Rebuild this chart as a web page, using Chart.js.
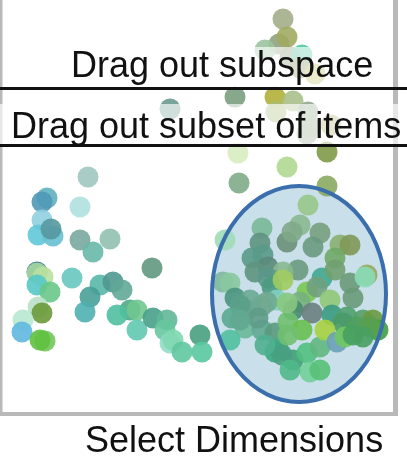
<!DOCTYPE html>
<html>
<head>
<meta charset="utf-8">
<script src="https://cdn.jsdelivr.net/npm/chart.js@4.4.1/dist/chart.umd.min.js"></script>
<style>
  html, body { margin:0; padding:0; background:#fff; overflow:hidden; }
  #wrap { position:relative; width:407px; height:456px; }
  #c { position:absolute; left:0; top:0; }
  .band { position:absolute; background:rgba(255,255,255,0.65); }
  .rule { position:absolute; left:0; width:407px; height:3px; background:#111; }
  .lbl { position:absolute; font-family:"Liberation Sans", Arial, sans-serif; font-size:36px; line-height:36px; color:#111; white-space:nowrap; }
</style>
</head>
<body>
<div id="wrap">
  <canvas id="c" width="407" height="456"></canvas>
  <div class="band" style="left:60px; top:47px; width:330px; height:41px;"></div>
  <div class="band" style="left:0; top:104px; width:407px; height:41px;"></div>
  <div class="rule" style="top:87px;"></div>
  <div class="rule" style="top:144px;"></div>
  <div class="lbl" style="left:71px; top:47px;">Drag out subspace</div>
  <div class="lbl" style="left:11px; top:108px;">Drag out subset of items</div>
  <div class="lbl" style="left:85px; top:422px;">Select Dimensions</div>
</div>
<script>
// ---- data (projection coordinates of items) ----
const xValues = [
  283,279,287,265,290,302,300,315,
  235,275,293,170,276,308,310,307,331,238,327,287,239,327,
  225,308,300,262,320,287,313,292,260,340,350,335,263,252,268,255,298,283,268,223,230,235,272,283,322,307,317,335,350,367,365,
  277,267,247,262,250,240,330,353,300,293,312,332,347,363,373,378,232,245,262,258,240,275,288,230,278,275,293,282,307,310,320,290,265,320,343,357,370,363,
  302,325,337,345,353,287,288,200,202,
  88,47,42,80,42,38,53,51,80,110,93,152,37,37,43,37,50,72,100,113,122,90,85,38,42,23,22,45,40,
  130,117,137,137,153,167,165,170,173,182
];
const yValues = [
  19,44,37,50,57,55,68,74,
  97,97,101,109,112,112,127,134,125,153,152,167,183,186,
  240,205,225,228,233,242,247,232,243,245,245,258,255,258,267,272,270,272,278,282,283,298,287,280,278,292,287,270,283,275,277,
  300,302,310,306,300,305,300,298,302,310,313,315,317,320,320,330,318,328,330,318,320,333,322,340,348,352,360,355,353,372,370,370,345,347,323,327,327,337,
  330,330,342,337,335,303,335,335,352,
  177,198,202,207,220,235,236,229,240,239,252,268,272,273,277,285,292,278,285,282,290,297,312,307,313,320,332,341,340,
  310,315,310,330,318,320,330,343,340,352
];
// ---- colour of each item (style) ----
const pointColors = [
  '#a3ae88','#8fa27e','#a2ab62','#9cc4a0','#8a9a78','#50c8a0','#8f9a61','#bcbc61',
  '#7a9e7e','#b0b038','#a8c088','#6a9a90','#a6bd78','#90a890','#9aae90','#9aae90','#b0b070','#d8ecc0','#7e9a48','#b0d890','#80ac88','#8aaa60',
  '#a0dcb8','#98c888','#88b890','#7ab898','#78a080','#6a9078','#6a9a80','#80a888','#5e9480','#8ab070','#809858','#70a868','#5a9a88','#5a9a88','#5a8a7a','#5e9480','#6a9a80','#88b890','#5a9888','#80b8a0','#88c8a0','#4a9480','#4a9a80','#a0cc60','#40a890','#78c850','#70a080','#70a070','#6a9a78','#98a858','#88dcb8',
  '#80d0c0','#70a890','#68a088','#70a890','#6aa894','#5aa088','#90c878','#689a78','#78b080','#4a8a70','#6a8080','#3a9a80','#50a070','#58a068','#6a9a40','#40a040','#5aa890','#6ab898','#60a890','#5e9c88','#60a890','#5a9a80','#70c070','#50c0a0','#4aa888','#3aa880','#40a078','#48a080','#50c080','#70d098','#58c078','#50b888','#50b090','#60b880','#4a9a68','#50a060','#58a050','#48a060',
  '#68c050','#a8d040','#6aa0b8','#70c860','#48a060','#88c880','#70c070','#48a080','#5ac8a0',
  '#a0c8c0','#60b0c0','#5098b8','#b0e0e0','#90d0e0','#60c8d8','#68c0d0','#5898a0','#78a8a0','#90c0b0','#68b8a8','#609880','#2a7090','#a8d8a0','#b8e0a0','#58c8c8','#68c888','#68c8c0','#58b8a8','#50988f','#60a898','#48a098','#50b0b0','#b8e0c8','#6a9a38','#b8e8d0','#60b8e0','#70c858','#60c040',
  '#50a888','#50c0a0','#70c890','#60c8b0','#48a088','#60b898','#68c8a0','#90dcc8','#80d8b0','#60c8a0'
];
// selection ellipse (data units)
const selCenter = [299, 294];
const selRadii = [87, 108];
// frame of the projection view (data units)
const frame = { left: 0, right: 395.5, bottom: 414 };

function rgba(hex, a) {
  const n = parseInt(hex.slice(1), 16);
  return `rgba(${(n>>16)&255},${(n>>8)&255},${n&255},${a})`;
}

function ellipseGeom(chart) {
  const {x, y} = chart.scales;
  const cx = x.getPixelForValue(selCenter[0]), cy = y.getPixelForValue(selCenter[1]);
  const rx = Math.abs(x.getPixelForValue(selCenter[0] + selRadii[0]) - cx);
  const ry = Math.abs(y.getPixelForValue(selCenter[1] + selRadii[1]) - cy);
  return {cx, cy, rx, ry};
}

const decor = {
  id: 'decor',
  beforeDatasetsDraw(chart) {
    const {ctx, scales:{x, y}} = chart;
    ctx.save();
    ctx.fillStyle = '#b9b9b9';
    const l = x.getPixelForValue(frame.left), r = x.getPixelForValue(frame.right);
    const b = y.getPixelForValue(frame.bottom);
    ctx.fillRect(l, 0, 2.5, b + 2);
    ctx.fillRect(r - 2.5, 0, 5, b + 2);
    ctx.fillRect(l, b - 2, r + 2.5 - l, 4);
    const e = ellipseGeom(chart);
    ctx.beginPath();
    ctx.ellipse(e.cx, e.cy, e.rx, e.ry, 0, 0, Math.PI * 2);
    ctx.fillStyle = '#c9dfe9';
    ctx.fill();
    ctx.restore();
  },
  afterDatasetsDraw(chart) {
    const {ctx} = chart;
    const e = ellipseGeom(chart);
    ctx.save();
    ctx.beginPath();
    ctx.ellipse(e.cx, e.cy, e.rx, e.ry, 0, 0, Math.PI * 2);
    ctx.lineWidth = 4;
    ctx.strokeStyle = '#3b6eac';
    ctx.stroke();
    ctx.restore();
  }
};

new Chart(document.getElementById('c'), {
  type: 'scatter',
  data: {
    datasets: [{
      data: xValues.map((v, i) => ({ x: v, y: yValues[i] })),
      pointRadius: 10.5,
      pointHoverRadius: 10.5,
      pointBorderWidth: 0,
      pointBackgroundColor: pointColors.map(c => rgba(c, 0.9)),
      pointBorderColor: 'rgba(0,0,0,0)',
      clip: false
    }]
  },
  options: {
    responsive: false,
    animation: false,
    events: [],
    layout: { padding: 0, autoPadding: false },
    plugins: { legend: { display: false }, tooltip: { enabled: false } },
    scales: {
      x: { type: 'linear', min: 0, max: 407, display: false },
      y: { type: 'linear', min: 0, max: 456, reverse: true, display: false }
    }
  },
  plugins: [decor]
});
</script>
</body>
</html>
